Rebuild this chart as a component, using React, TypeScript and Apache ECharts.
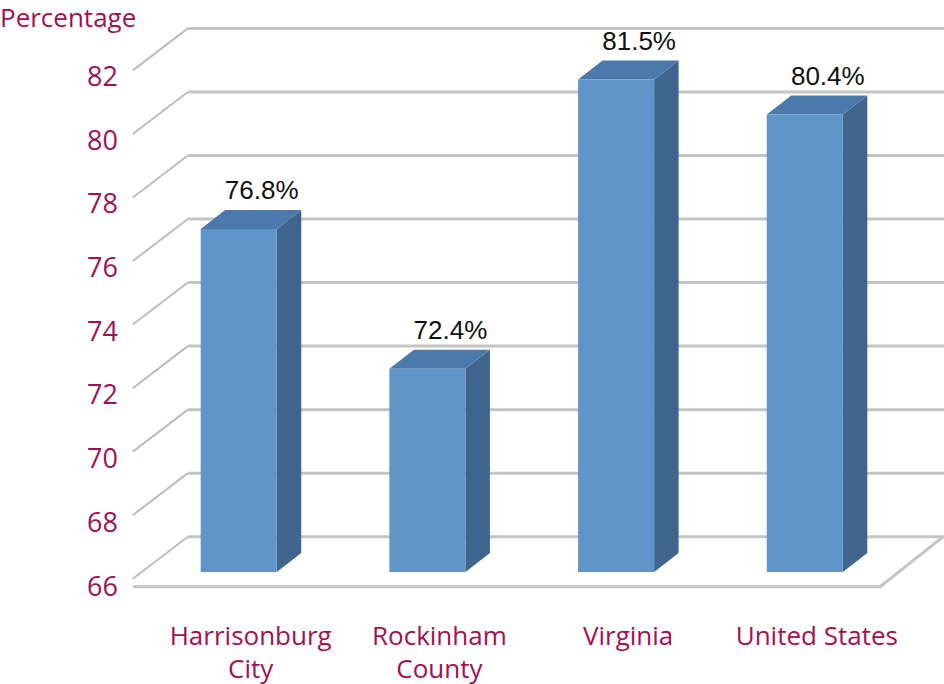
import React, { useEffect, useRef } from "react";
import * as echarts from "echarts";

const categories = ["Harrisonburg\nCity", "Rockinham\nCounty", "Virginia", "United States"];
const values = [76.8, 72.4, 81.5, 80.4];
const yMin = 66;
const yMax = 82;
const yStep = 2;
const gridValues = [66, 68, 70, 72, 74, 76, 78, 80, 82];

const LABEL_COLOR = "#A3114F";
const FRONT = "#5F95C9";
const TOP = "#4B79AC";
const SIDE = "#3F658F";

export default function App() {
  const ref = useRef<HTMLDivElement>(null);
  useEffect(() => {
    if (!ref.current) return;
    const chart = echarts.init(ref.current, undefined, { renderer: "svg" });
    const option: any = {
      animation: false,
      backgroundColor: "#ffffff",
      title: {
        text: "Percentage",
        left: 0,
        top: 0,
        padding: 0,
        textStyle: {
          color: LABEL_COLOR,
          fontFamily: "Open Sans",
          fontSize: 26,
          fontWeight: "normal",
          lineHeight: 34,
        },
      },
      grid: [
        { left: 133, right: 64, top: 75.4, height: 509.6 },
        { left: 144.35, width: 754.8, top: 63.7, height: 509.6 },
      ],
      xAxis: [
        { gridIndex: 0, type: "value", show: false },
        {
          gridIndex: 1,
          type: "category",
          data: categories,
          axisLine: { show: false },
          axisTick: { show: false },
          splitLine: { show: false },
          axisLabel: {
            interval: 0,
            color: LABEL_COLOR,
            fontFamily: "Open Sans",
            fontSize: 26,
            lineHeight: 33,
            margin: 46,
            padding: [0, 0, 0, 24],
          },
        },
      ],
      yAxis: [
        {
          gridIndex: 0,
          type: "value",
          min: yMin,
          max: yMax,
          interval: yStep,
          axisLine: { show: false },
          axisTick: { show: false },
          splitLine: { show: false },
          axisLabel: {
            color: LABEL_COLOR,
            fontFamily: "Open Sans",
            fontSize: 27,
            margin: 15,
          },
        },
        {
          gridIndex: 1,
          type: "value",
          min: yMin,
          max: yMax,
          interval: yStep,
          show: false,
        },
      ],
      series: [
        {
          type: "custom",
          name: "walls",
          xAxisIndex: 1,
          yAxisIndex: 1,
          silent: true,
          z: 1,
          data: gridValues.map((v) => [0, v]),
          encode: { x: 0, y: 1 },
          renderItem: (params: any, api: any) => {
            const v = api.value(1);
            const p = api.coord([0, v]);
            const band = api.size([1, 0])[0];
            const left = p[0] - band / 2 - 2.5;
            const right = api.coord([categories.length - 1, v])[0] + band / 2;
            const children: any[] = [
              {
                type: "line",
                shape: { x1: left + 46, y1: p[1] - 35.3, x2: right + 80, y2: p[1] - 35.3 },
                style: { stroke: "#c4c4c4", lineWidth: 3 },
              },
              {
                type: "line",
                shape: { x1: left - 9, y1: p[1] + 6.7, x2: left + 46, y2: p[1] - 35.3 },
                style: { stroke: "#bdbdbd", lineWidth: 2 },
              },
            ];
            if (v === yMin) {
              children.push({
                type: "polyline",
                shape: {
                  points: [
                    [left - 9, p[1] + 14.7],
                    [right - 19, p[1] + 14.7],
                    [right + 44, p[1] - 35.3],
                  ],
                },
                style: { stroke: "#c4c4c4", lineWidth: 3, fill: null },
              });
            }
            return { type: "group", children };
          },
        },
        {
          type: "custom",
          name: "bars",
          xAxisIndex: 1,
          yAxisIndex: 1,
          z: 2,
          data: values.map((v, i) => [i, v]),
          encode: { x: 0, y: 1 },
          renderItem: (params: any, api: any) => {
            const idx = api.value(0);
            const v = api.value(1);
            const top = api.coord([idx, v]);
            const base = api.coord([idx, yMin]);
            const bw = api.size([1, 0])[0] * 0.403;
            const x0 = top[0] - bw / 2;
            const x1 = top[0] + bw / 2;
            const yt = top[1];
            const yb = base[1];
            const dx = 24.5;
            const dy = -19;
            return {
              type: "group",
              children: [
                {
                  type: "polygon",
                  shape: { points: [[x1, yt], [x1 + dx, yt + dy], [x1 + dx, yb + dy], [x1, yb]] },
                  style: { fill: SIDE },
                },
                {
                  type: "polygon",
                  shape: { points: [[x0, yt], [x0 + dx, yt + dy], [x1 + dx, yt + dy], [x1, yt]] },
                  style: { fill: TOP },
                },
                {
                  type: "polygon",
                  shape: { points: [[x0, yt], [x1, yt], [x1, yb], [x0, yb]] },
                  style: { fill: FRONT },
                },
                {
                  type: "text",
                  x: top[0] + 23,
                  y: yt - 39,
                  style: {
                    text: v.toFixed(1) + "%",
                    fontFamily: "Liberation Sans",
                    fontSize: 26,
                    fill: "#111111",
                    align: "center",
                    verticalAlign: "middle",
                  },
                },
              ],
            };
          },
        },
      ],
    };
    chart.setOption(option);
    return () => chart.dispose();
  }, []);
  return (
    <div
      ref={ref}
      style={{ position: "fixed", left: 0, top: 0, width: 944, height: 684 }}
    />
  );
}
